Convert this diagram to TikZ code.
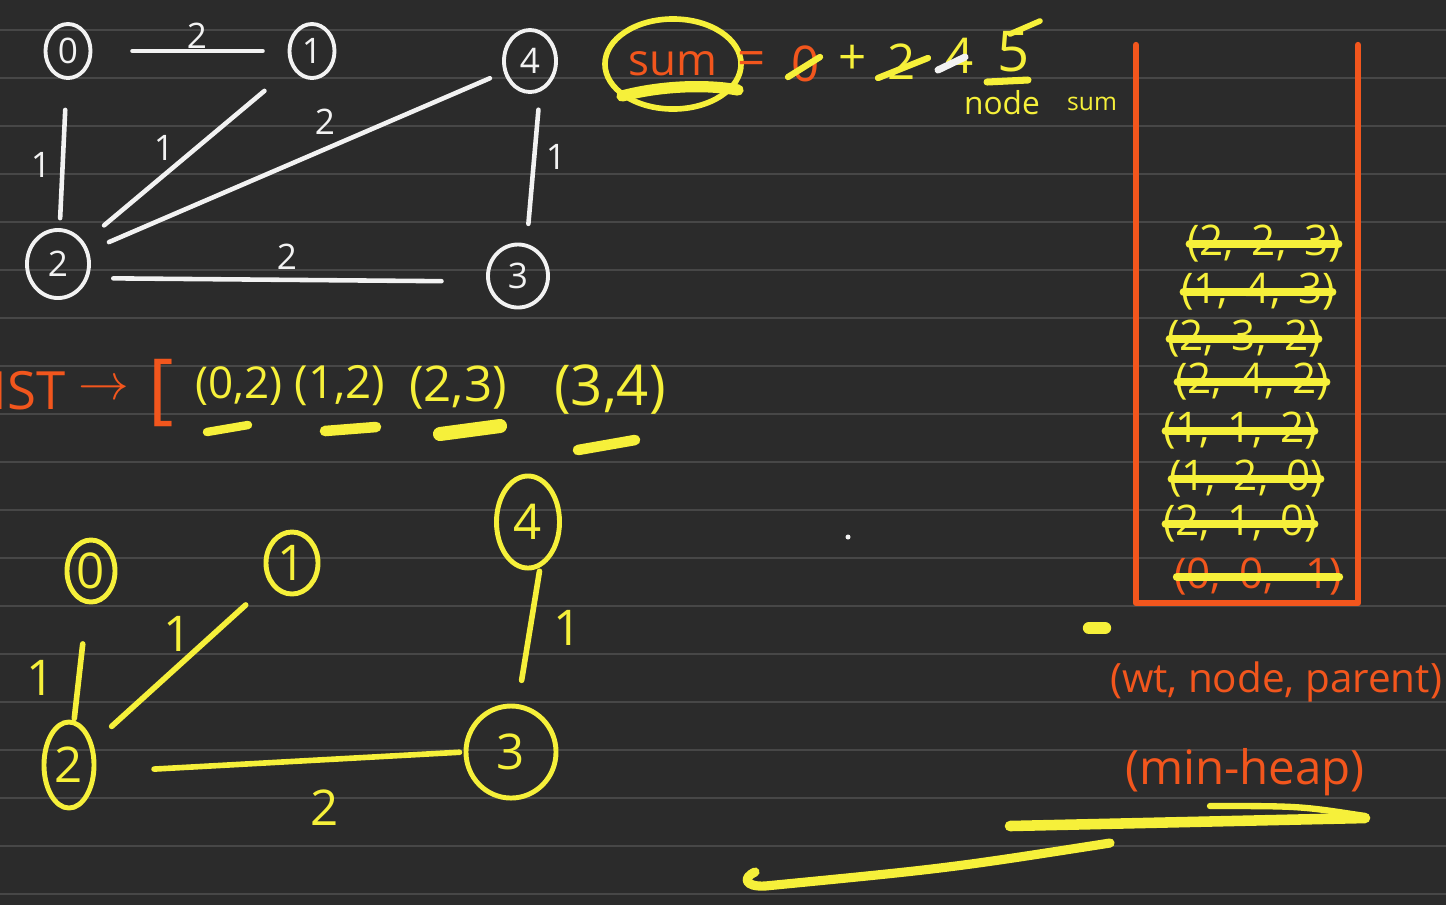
\documentclass[tikz,border=0pt]{standalone}
\usepackage{fontspec}
\setmainfont{Open Sans}
\usetikzlibrary{positioning,shapes.geometric}
\definecolor{board}{HTML}{2B2B2B}
\definecolor{ruling}{HTML}{474747}
\definecolor{chalk}{HTML}{F2F2F2}
\definecolor{marker}{HTML}{F6F03A}
\definecolor{pen}{HTML}{F2561D}

\begin{document}
\begin{tikzpicture}[x=0.01cm, y=-0.01cm, line cap=round, line join=round,
  wnode/.style={draw=chalk, line width=1.1pt, ellipse, inner sep=0pt, minimum width=0.45cm, minimum height=0.54cm, text=chalk, font=\fontsize{10}{10}\selectfont},
  ynode/.style={draw=marker, line width=1.4pt, ellipse, inner sep=0pt, minimum width=0.5cm, minimum height=0.62cm, text=marker, font=\fontsize{14}{14}\selectfont},
  wedge/.style={chalk, line width=1.3pt},
  yedge/.style={marker, line width=1.6pt},
  wlbl/.style={text=chalk, font=\fontsize{10}{10}\selectfont},
  ylbl/.style={text=marker, font=\fontsize{14}{14}\selectfont},
  heapitem/.style={text=marker, inner sep=0pt, font=\fontsize{12}{12}\selectfont},
  strike/.style={marker, line width=2.4pt},
  pentext/.style={text=pen, inner sep=0pt},
  mtext/.style={text=marker, inner sep=0pt}]
\clip (0,0) rectangle (1446,905);
\fill[board] (0,0) rectangle (1446,905);
\foreach \y in {30,78,...,894}
  \draw[ruling, line width=0.6pt] (0,\y) -- (1446,\y);

\node[wnode] (w0) at (68,51) {0};
\node[wnode] (w1) at (312,51) {1};
\node[wnode, minimum width=0.52cm, minimum height=0.62cm] (w4) at (530,61) {4};
\node[wnode, minimum width=0.62cm, minimum height=0.68cm] (w2) at (58,264) {2};
\node[wnode, minimum width=0.6cm, minimum height=0.63cm] (w3) at (518,276) {3};
\draw[wedge, shorten <=0.4cm, shorten >=0.25cm] (w0) -- (w1);
\draw[wedge, shorten <=0.3cm, shorten >=0.1cm] (w0) -- (w2);
\draw[wedge, shorten <=0.36cm, shorten >=0.26cm] (w1) -- (w2);
\draw[wedge, shorten <=0.15cm, shorten >=0.22cm] (w4) -- (w2);
\draw[wedge, shorten <=0.18cm, shorten >=0.2cm] (w4.-72) -- (w3.75);
\draw[wedge, shorten <=0.25cm, shorten >=0.45cm] (w2.-25) -- (w3.190);
\node[wlbl] (c01) at (197,36) {2};
\node[wlbl] (c02) at (41,165) {1};
\node[wlbl] (c12) at (164,148) {1};
\node[wlbl] (c24) at (325,122) {2};
\node[wlbl] (c43) at (556,157) {1};
\node[wlbl] (c23) at (287,257) {2};

\node[draw=marker, line width=1.6pt, ellipse, minimum width=1.36cm, minimum height=0.9cm, pentext, font=\fontsize{12.5}{12.5}\selectfont] (sum) at (673,64) {sum};
\draw[marker, line width=3.2pt] (622,96) .. controls (660,86) and (705,84) .. (738,90);
\node[pentext, font=\fontsize{14}{14}\selectfont] (eq) at (752,64) {=};
\node[pentext, font=\fontsize{14}{14}\selectfont] (s0) at (806,64) {0};
\node[mtext, font=\fontsize{14}{14}\selectfont] (plus) at (853,60) {+};
\node[mtext, font=\fontsize{14}{14}\selectfont] (s2) at (902,62) {2};
\node[mtext, font=\fontsize{14}{14}\selectfont] (s4) at (960,56) {4};
\node[mtext, font=\fontsize{16}{16}\selectfont] (s5) at (1014,52) {5};
\draw[marker, line width=1.8pt] (788,77) -- (820,57);
\draw[marker, line width=1.8pt] (878,78) -- (928,58);
\draw[chalk, line width=2pt] (938,70) -- (965,57);
\draw[marker, line width=1.6pt] (1010,34) -- (1040,21);
\draw[marker, line width=2pt] (987,82) -- (1028,80);
\node[mtext, font=\fontsize{9}{9}\selectfont] (nodesum) at (1002,103) {node};
\node[mtext, font=\fontsize{7}{7}\selectfont] (sumsum) at (1092,104) {sum};

\node[pentext, anchor=east, font=\fontsize{15}{15}\selectfont] (mst) at (66,391) {MST};
\node[pentext, font=\fontsize{15}{15}\selectfont] (arr) at (104,390) {$\rightarrow$};
\node[pentext, font=\fontsize{22}{22}\selectfont] (brk) at (161,393) {[};
\node[mtext, font=\fontsize{12.5}{12.5}\selectfont] (e1) at (239,386) {(0,2)};
\node[mtext, font=\fontsize{13}{13}\selectfont] (e2) at (340,386) {(1,2)};
\node[mtext, font=\fontsize{14}{14}\selectfont] (e3) at (458,388) {(2,3)};
\node[mtext, font=\fontsize{16}{16}\selectfont] (e4) at (610,390) {(3,4)};
\draw[marker, line width=2.4pt] (207,432) -- (248,425);
\draw[marker, line width=3pt] (325,431) -- (376,427);
\draw[marker, line width=4pt] (440,434) -- (500,426);
\draw[marker, line width=3pt] (578,450) -- (635,440);

\node[ynode, minimum width=0.48cm, minimum height=0.62cm] (y0) at (91,571) {0};
\node[ynode, minimum width=0.52cm, minimum height=0.62cm] (y1) at (292,563) {1};
\node[ynode, minimum width=0.63cm, minimum height=0.92cm] (y4) at (528,522) {4};
\node[ynode, minimum width=0.5cm, minimum height=0.86cm] (y2) at (69,765) {2};
\node[ynode, minimum width=0.9cm, minimum height=0.92cm] (y3) at (511,752) {3};
\draw[yedge, shorten <=0.4cm, shorten >=0.02cm] (y0) -- (y2);
\draw[yedge, shorten <=0.32cm, shorten >=0.25cm] (y1) -- (y2);
\draw[yedge, shorten <=0.04cm, shorten >=0.24cm] (y4.-75) -- (y3.82);
\draw[yedge, shorten <=0.58cm, shorten >=0.04cm] (y2.-15) -- (y3.180);
\node[ylbl] (d02) at (41,678) {1};
\node[ylbl] (d12) at (178,634) {1};
\node[ylbl] (d43) at (568,628) {1};
\node[ylbl] (d23) at (325,808) {2};

\draw[pen, line width=1.8pt] (1136,45) -- (1136,603) -- (1358,603) -- (1358,45);
\node[heapitem] (h1) at (1264,244) {(2,\, 2,\, 3)};
\node[heapitem] (h2) at (1258,292) {(1,\, 4,\, 3)};
\node[heapitem] (h3) at (1244,339) {(2,\, 3,\, 2)};
\node[heapitem] (h4) at (1252,382) {(2,\, 4,\, 2)};
\node[heapitem] (h5) at (1240,431) {(1,\, 1,\, 2)};
\node[heapitem] (h6) at (1246,479) {(1,\, 2,\, 0)};
\node[heapitem] (h7) at (1240,524) {(2,\, 1,\, 0)};
\node[heapitem, text=pen] (h8) at (1258,577) {(0,\, 0,\, -1)};
\foreach \h in {h1,h2,h3,h4,h5,h6,h7,h8}
  \draw[strike] ([xshift=1pt]\h.west) -- ([xshift=-1pt]\h.east);

\node[pentext, font=\fontsize{11.5}{11.5}\selectfont] (fmt) at (1276,682) {(wt, node, parent)};
\node[pentext, font=\fontsize{13.5}{13.5}\selectfont] (kind) at (1245,772) {(min-heap)};
\draw[marker, line width=3pt] (1010,826) -- (1365,818);
\draw[marker, line width=1.8pt] (1210,806) .. controls (1300,806) .. (1365,816);
\draw[marker, line width=2.6pt] (1110,843) .. controls (950,868) .. (765,886) .. controls (745,887) and (742,878) .. (755,872);
\fill[chalk] (848,537) circle [radius=2.5];
\draw[marker, line width=3.5pt] (1089,628) -- (1105,628);
\end{tikzpicture}
\end{document}
